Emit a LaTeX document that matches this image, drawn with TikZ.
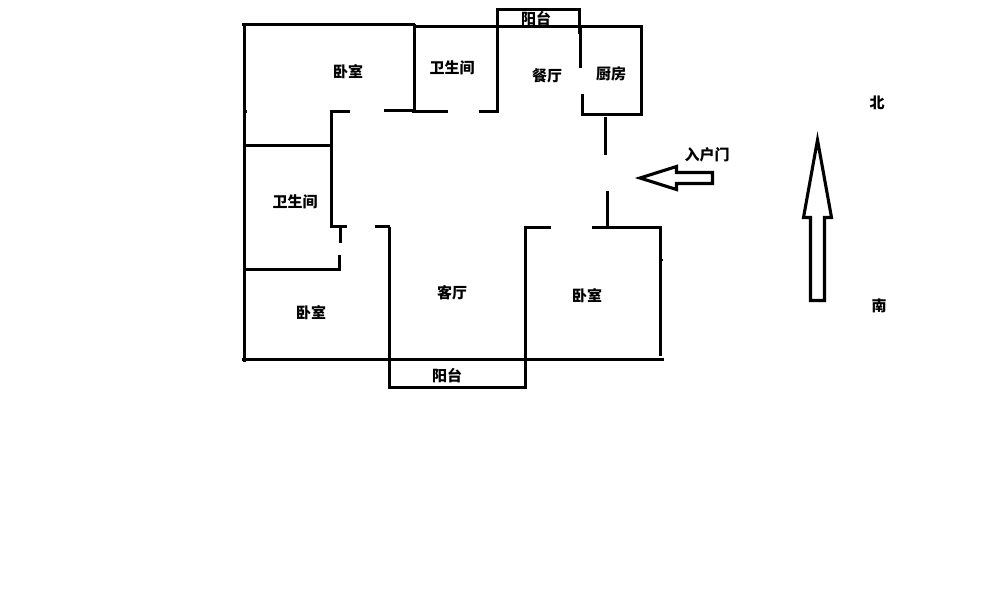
\documentclass[tikz,border=0pt]{standalone}
\usepackage{fontspec}
\setmainfont{Noto Sans CJK SC}
\tikzstyle{wall} = [draw=black, line width=3.1pt]
\tikzstyle{pointer} = [draw=black, line width=3.1pt, fill=white, miter limit=10]
\tikzstyle{room} = [inner sep=0pt, text=black, font=\fontsize{15}{16}\selectfont\bfseries]

\begin{document}
\begin{tikzpicture}[x=1pt, y=-1pt]
	\useasboundingbox (0,0) rectangle (983,600);

	% outer walls and balconies
	\draw [wall] (242,24.5) -- (415,24.5);
	\draw [wall] (244.5,24) -- (244.5,362);
	\draw [wall] (414.5,24) -- (414.5,112);
	\draw [wall] (415,26.5) -- (580,26.5);
	\draw [wall] (580,26.5) -- (641.5,26.5) -- (641.5,114.5) -- (582.5,114.5) -- (582.5,94);
	\draw [wall] (497.5,113) -- (497.5,9.5) -- (579.5,9.5) -- (579.5,34);
	\draw [wall] (580.5,26) -- (580.5,68);
	\draw [wall] (242,359.5) -- (664,359.5);
	\draw [wall] (389.5,226.5) -- (389.5,387.5) -- (525.5,387.5);
	\draw [wall] (525.5,389) -- (525.5,227.5) -- (551,227.5);
	\draw [wall] (592,227.5) -- (660.5,227.5) -- (660.5,356);

	% inner walls
	\draw [wall] (350,111.5) -- (331.5,111.5) -- (331.5,226.5) -- (347,226.5);
	\draw [wall] (384,110.5) -- (414,110.5);
	\draw [wall] (412,111.5) -- (448,111.5);
	\draw [wall] (479,111.5) -- (497,111.5);
	\draw [wall] (244,145.5) -- (331,145.5);
	\draw [wall] (340.5,227) -- (340.5,243);
	\draw [wall] (244,269.5) -- (339.5,269.5) -- (339.5,255);
	\draw [wall] (375,226.5) -- (389.5,226.5);
	\draw [wall] (605.5,117) -- (605.5,155);
	\draw [wall] (607.5,191) -- (607.5,227);

	% small marks on the walls
	\draw [wall] (244,111.5) -- (247,111.5);
	\draw [draw=black, line width=1.5pt] (660,260) -- (663,260);

	% entrance arrow and north arrow
	\draw [pointer] (640,178) -- (676.5,166.5) -- (676.5,172.5) -- (712.5,172.5) -- (712.5,183.5) -- (676.5,183.5) -- (676.5,189.5) -- cycle;
	\draw [pointer] (817.5,140) -- (831.5,217.5) -- (824.5,217.5) -- (824.5,300.5) -- (810.5,300.5) -- (810.5,217.5) -- (803.5,217.5) -- cycle;

	\node (bedroom_north) [room] at (348,71.2) {卧室};
	\node (bathroom_north) [room] at (452,68.2) {卫生间};
	\node (dining) [room] at (547,76.2) {餐厅};
	\node (kitchen) [room] at (611,74.2) {厨房};
	\node (balcony_north) [room] at (536,18.2) {阳台};
	\node (entrance) [room] at (707,155.2) {入户门};
	\node (north) [room] at (877,103.2) {北};
	\node (south) [room] at (879,306.2) {南};
	\node (bathroom_west) [room] at (295,202.2) {卫生间};
	\node (living) [room] at (452,293.2) {客厅};
	\node (bedroom_west) [room] at (311,312.2) {卧室};
	\node (bedroom_south) [room] at (587,295.2) {卧室};
	\node (balcony_south) [room] at (447,375.2) {阳台};
\end{tikzpicture}
\end{document}
